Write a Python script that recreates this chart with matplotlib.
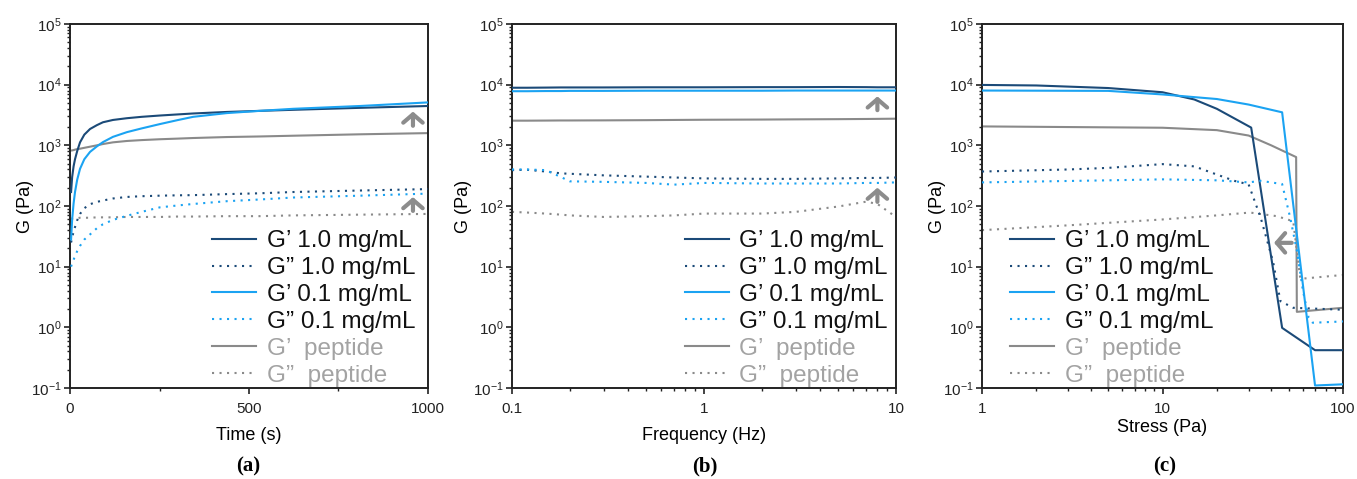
import matplotlib
matplotlib.use("Agg")
import matplotlib.pyplot as plt
from matplotlib.ticker import LogLocator, FixedLocator, FixedFormatter, NullFormatter
from matplotlib.lines import Line2D

plt.rcParams['font.family'] = ['Liberation Sans', 'DejaVu Sans']
plt.rcParams['mathtext.fontset'] = 'custom'
plt.rcParams['mathtext.rm'] = 'Liberation Sans'

# ---------------- data ----------------
# (a) time sweep
a_time = [3, 6, 10, 14, 20, 28, 40, 56, 75, 92, 120, 159, 200, 251, 300, 344, 438, 530, 623, 810, 1000]
a_gp_10 = [170, 300, 450, 590, 800, 1120, 1500, 1860, 2150, 2400, 2620, 2800, 2950, 3100, 3230,
           3350, 3550, 3700, 3850, 4150, 4450]
a_gpp_10 = [25, 30, 38, 45, 58, 74, 92, 107, 117, 123, 133, 141, 145, 148, 150, 151, 157, 162,
            170, 180, 190]
a_gp_01 = [28, 60, 110, 170, 270, 410, 590, 780, 960, 1130, 1380, 1650, 1900, 2240, 2600, 2950,
           3400, 3700, 4000, 4450, 5100]
a_gpp_01 = [10, 11.5, 13, 15, 18, 22, 28, 34, 43, 50, 59, 69, 80, 95, 102, 108, 120, 128, 138,
            148, 160]
a_gp_pep = [820, 825, 835, 850, 865, 880, 910, 950, 1000, 1050, 1120, 1180, 1220, 1260, 1290,
            1320, 1370, 1400, 1440, 1520, 1590]
a_gpp_pep = [62, 62, 63, 63, 63, 64, 64, 64, 65, 65, 65, 66, 66, 66, 67, 67, 68, 68, 70, 72, 74]

# (b) frequency sweep
b_freq = [0.1, 0.12, 0.15, 0.18, 0.2, 0.3, 0.5, 0.7, 1, 2, 3, 5, 7, 8, 10]
b_gp_10 = [8900, 8900, 8950, 9000, 9000, 9000, 9050, 9050, 9050, 9100, 9100, 9150, 9100, 9050, 9050]
b_gpp_10 = [390, 395, 370, 345, 340, 320, 305, 295, 285, 280, 280, 285, 290, 290, 295]
b_gp_01 = [7800, 7800, 7850, 7850, 7900, 7900, 7950, 7950, 7950, 7950, 8000, 8000, 8000, 8000, 8000]
b_gpp_01 = [400, 400, 390, 300, 255, 250, 240, 225, 240, 235, 235, 235, 240, 240, 245]
b_gp_pep = [2550, 2550, 2560, 2570, 2570, 2580, 2600, 2620, 2640, 2660, 2680, 2700, 2720, 2730, 2750]
b_gpp_pep = [80, 78, 75, 72, 70, 66, 68, 70, 75, 75, 80, 98, 118, 108, 66]

# (c) stress sweep
c_x_gp_10 = [1, 2, 5, 10, 15, 20, 31, 46, 70, 100]
c_gp_10 = [9900, 9700, 8800, 7500, 5700, 4000, 1960, 0.98, 0.42, 0.42]
c_x_gpp_10 = [1, 3, 5, 10, 15, 20, 25, 30, 35, 41, 45, 53, 100]
c_gpp_10 = [370, 400, 425, 490, 450, 330, 260, 227, 64, 12, 2.7, 2.1, 1.95]
c_x_gp_01 = [1, 5, 10, 20, 30, 46, 70, 100]
c_gp_01 = [8000, 7900, 6900, 5800, 4700, 3500, 0.11, 0.115]
c_x_gpp_01 = [1, 5, 10, 20, 27, 30, 35, 46, 51, 55.6, 60, 64.5, 68, 100]
c_gpp_01 = [245, 265, 275, 265, 250, 245, 260, 230, 64, 18, 4, 1.44, 1.19, 1.25]
c_x_gp_pep = [1, 10, 20, 30, 40, 55, 55.5, 100]
c_gp_pep = [2050, 1950, 1780, 1450, 1000, 640, 1.8, 2.1]
c_x_gpp_pep = [1, 3, 10, 20, 30.5, 43, 53, 58, 100]
c_gpp_pep = [40, 48, 60, 70, 78, 68, 56, 6.3, 7.3]

labels = ['G\u2019 1.0 mg/mL', 'G\u201d 1.0 mg/mL', 'G\u2019 0.1 mg/mL',
          'G\u201d 0.1 mg/mL', 'G\u2019  peptide', 'G\u201d  peptide']
y_ticks = [1e-1, 1, 10, 100, 1e3, 1e4, 1e5]
y_ticklabels = ['$\\mathregular{10^{-1}}$', '$\\mathregular{10^{0}}$', '$\\mathregular{10^{1}}$',
                '$\\mathregular{10^{2}}$', '$\\mathregular{10^{3}}$', '$\\mathregular{10^{4}}$',
                '$\\mathregular{10^{5}}$']

NAVY = '#1b4a78'
LIGHT = '#1ba3f2'
GRAY = '#8a8a8a'
GRAYTXT = '#a3a3a3'
ARROW = '#8c8c8c'
DOT = (0, (1, 2.6))

fig = plt.figure(figsize=(13.57, 4.79), dpi=100)
W, H = 1357, 479

def make_ax(l, r, t=24, b=388):
    return fig.add_axes([l / W, 1 - b / H, (r - l) / W, (b - t) / H])

axa = make_ax(70, 428)
axb = make_ax(512, 896)
axc = make_ax(982, 1343)

def style(ax, lp):
    ax.set_yscale('log')
    ax.set_ylim(1e-1, 1e5)
    ax.yaxis.set_major_locator(FixedLocator(y_ticks))
    ax.yaxis.set_major_formatter(FixedFormatter(y_ticklabels))
    ax.yaxis.set_minor_locator(LogLocator(base=10, subs=range(2, 10), numticks=20))
    ax.yaxis.set_minor_formatter(NullFormatter())
    for s in ax.spines.values():
        s.set_linewidth(1.4)
        s.set_color('#222222')
    ax.tick_params(which='major', direction='out', length=4, width=1.2, labelsize=11,
                   colors='#222222', pad=2)
    ax.tick_params(which='minor', direction='out', length=2.5, width=1.0, colors='#222222')
    ax.tick_params(axis='x', which='major', pad=6)
    ax.set_ylabel('G (Pa)', fontsize=13, labelpad=lp)

def plot_set(ax, xs, ys):
    cols = [NAVY, NAVY, LIGHT, LIGHT, GRAY, GRAY]
    for i, (x, y) in enumerate(zip(xs, ys)):
        ls = '-' if i % 2 == 0 else DOT
        ax.plot(x, y, color=cols[i], lw=1.5, linestyle=ls, zorder=3 if i < 4 else 2)

def legend(ax, xanchor):
    cols = [NAVY, NAVY, LIGHT, LIGHT, GRAY, GRAY]
    handles = [Line2D([], [], color=c, lw=1.5, linestyle='-' if i % 2 == 0 else DOT)
               for i, c in enumerate(cols)]
    leg = ax.legend(handles, labels, loc='lower left', bbox_to_anchor=(xanchor, 0.004),
                    frameon=False, fontsize=17.5, handlelength=1.8, handletextpad=0.45,
                    labelspacing=0.2, borderpad=0, borderaxespad=0)
    for i, t in enumerate(leg.get_texts()):
        t.set_color(GRAYTXT if i >= 4 else '#111111')

def arrow(ax, tip, tail):
    ax.annotate('', xy=tip, xytext=tail,
                arrowprops=dict(arrowstyle='->, head_length=0.6, head_width=0.7',
                                lw=3, color=ARROW, shrinkA=0, shrinkB=0), zorder=5)

# (a)
style(axa, -2)
plot_set(axa, [a_time] * 6, [a_gp_10, a_gpp_10, a_gp_01, a_gpp_01, a_gp_pep, a_gpp_pep])
axa.set_xlim(0, 1000)
axa.xaxis.set_major_locator(FixedLocator([0, 500, 1000]))
axa.xaxis.set_minor_locator(FixedLocator([250, 750]))
axa.set_xlabel('Time (s)', fontsize=13, labelpad=8)
legend(axa, 0.397)
arrow(axa, (958, 3600), (958, 2100))
arrow(axa, (958, 140), (958, 83))

# (b)
style(axb, 1)
axb.set_xscale('log')
plot_set(axb, [b_freq] * 6, [b_gp_10, b_gpp_10, b_gp_01, b_gpp_01, b_gp_pep, b_gpp_pep])
axb.set_xlim(0.1, 10)
axb.xaxis.set_major_locator(FixedLocator([0.1, 1, 10]))
axb.xaxis.set_major_formatter(FixedFormatter(['0.1', '1', '10']))
axb.xaxis.set_minor_locator(LogLocator(base=10, subs=range(2, 10), numticks=20))
axb.xaxis.set_minor_formatter(NullFormatter())
axb.set_xlabel('Frequency (Hz)', fontsize=13, labelpad=8)
legend(axb, 0.45)
arrow(axb, (8.0, 6400), (8.0, 3800))
arrow(axb, (8.0, 200), (8.0, 117))

# (c)
style(axc, -2)
axc.set_xscale('log')
plot_set(axc, [c_x_gp_10, c_x_gpp_10, c_x_gp_01, c_x_gpp_01, c_x_gp_pep, c_x_gpp_pep],
         [c_gp_10, c_gpp_10, c_gp_01, c_gpp_01, c_gp_pep, c_gpp_pep])
axc.set_xlim(1, 100)
axc.xaxis.set_major_locator(FixedLocator([1, 10, 100]))
axc.xaxis.set_major_formatter(FixedFormatter(['1', '10', '100']))
axc.xaxis.set_minor_locator(LogLocator(base=10, subs=range(2, 10), numticks=20))
axc.xaxis.set_minor_formatter(NullFormatter())
axc.set_xlabel('Stress (Pa)', fontsize=13, labelpad=2)
legend(axc, 0.078)
arrow(axc, (41.5, 24.7), (52, 24.7))

# panel labels
for x, s in [(248, '(a)'), (705, '(b)'), (1165, '(c)')]:
    fig.text(x / W, 1 - 466 / H, s, ha='center', va='center', fontsize=15,
             fontweight='bold', family='Liberation Serif')

fig.savefig('out.png', dpi=100)
